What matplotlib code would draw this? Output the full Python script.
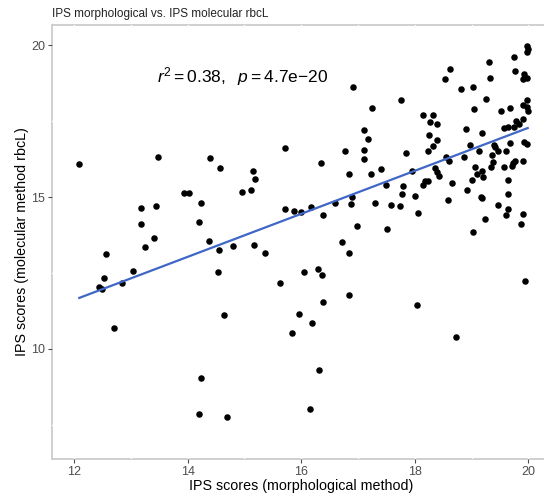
import numpy as np
import matplotlib
matplotlib.use("Agg")
import matplotlib.pyplot as plt

plt.rcParams['font.family'] = ['Liberation Sans', 'DejaVu Sans']
plt.rcParams['mathtext.fontset'] = 'custom'
plt.rcParams['mathtext.rm'] = 'Liberation Sans'
plt.rcParams['mathtext.it'] = 'Liberation Sans:italic'

# IPS scores per sample: morphological (x) vs molecular rbcL (y)
ips_morph = [
    12.09, 13.48, 14.39, 13.93, 14.03, 14.23, 13.18, 13.45, 13.17, 14.20,
    13.41, 13.25, 14.37, 12.57, 13.04, 12.52, 12.85, 12.44, 12.49, 12.71,
    14.23, 14.20,
    16.91, 17.10, 17.17, 15.72, 16.78, 17.10, 17.11, 14.57, 15.15, 15.19,
    16.35, 16.84, 14.95, 15.11, 15.72, 15.88, 15.99, 16.17, 16.60, 16.90,
    16.87, 16.39, 16.98, 14.55, 14.80, 15.16, 15.37, 16.72, 16.84, 14.53,
    16.05, 16.29, 16.36, 15.62, 16.85, 16.38, 15.96, 16.19, 15.84, 16.31,
    16.16, 14.64, 14.70,
    18.62, 18.53, 17.75, 17.24, 18.15, 18.33, 18.27, 18.40, 18.25, 18.40,
    18.33, 18.24, 17.84, 18.55, 18.60, 18.36, 18.40, 18.43, 17.95, 17.40,
    17.23, 18.18, 18.23, 18.14, 18.66, 17.49, 17.79, 17.78, 18.01, 17.30,
    17.58, 17.74, 18.59, 18.06, 17.51, 18.04,
    19.98, 19.99, 19.97, 19.74, 19.31, 19.76, 19.33, 19.92, 19.90, 19.97,
    18.82, 19.03, 19.26, 19.98, 19.90, 19.05, 19.52, 19.68, 19.98, 19.99,
    19.91, 19.79, 19.83, 19.75, 19.65, 19.57, 18.91, 19.19, 19.92, 19.98,
    19.68, 18.98, 19.40, 19.42, 19.14, 19.47, 19.61, 18.86, 19.36, 19.38,
    19.76, 19.73, 19.91, 19.35, 19.57, 19.72, 19.07, 19.18, 19.09, 19.20,
    19.01, 19.65, 18.92, 19.16, 19.18, 19.64, 19.46, 19.65, 19.60, 19.91,
    19.24, 19.88, 19.03, 19.95, 18.72,
]
ips_rbcl = [
    16.10, 16.33, 16.29, 15.13, 15.13, 14.79, 14.63, 14.69, 14.12, 14.19,
    13.64, 13.37, 13.56, 13.13, 12.56, 12.35, 12.16, 12.05, 11.96, 10.68,
    9.05, 7.85,
    18.61, 17.19, 16.92, 16.62, 16.50, 16.56, 16.26, 15.94, 15.85, 15.59,
    16.13, 15.77, 15.15, 15.22, 14.61, 14.55, 14.50, 14.66, 14.79, 15.01,
    14.77, 14.42, 14.05, 13.25, 13.38, 13.42, 13.16, 13.51, 13.16, 12.52,
    12.52, 12.63, 12.43, 12.16, 11.79, 11.54, 11.14, 10.87, 10.53, 9.32,
    8.02, 11.13, 7.77,
    19.20, 18.87, 18.19, 17.93, 17.69, 17.70, 17.48, 17.39, 17.05, 16.87,
    16.69, 16.51, 16.46, 16.33, 16.19, 15.95, 15.81, 15.69, 15.85, 15.91,
    15.76, 15.54, 15.53, 15.39, 15.46, 15.38, 15.36, 15.09, 15.04, 14.80,
    14.73, 14.71, 14.90, 14.46, 13.94, 11.45,
    19.98, 19.87, 19.76, 19.60, 19.43, 19.14, 18.92, 19.05, 18.88, 18.92,
    18.56, 18.63, 18.22, 18.19, 18.04, 17.88, 17.82, 17.93, 17.95, 17.82,
    17.58, 17.51, 17.41, 17.29, 17.31, 17.26, 17.23, 17.12, 16.81, 16.73,
    16.79, 16.70, 16.70, 16.63, 16.52, 16.50, 16.50, 16.32, 16.37, 16.14,
    16.19, 16.11, 16.19, 15.99, 16.00, 16.02, 16.00, 15.87, 15.77, 15.67,
    15.55, 15.56, 15.22, 14.99, 14.97, 15.09, 14.75, 14.60, 14.40, 14.45,
    14.27, 14.11, 13.86, 12.23, 10.39,
]
x_ticks = [12, 14, 16, 18, 20]
y_ticks = [10, 15, 20]

# linear model rbcL ~ morphological
fit_slope = 0.7076
fit_intercept = 3.125

x = np.array(ips_morph)
y = np.array(ips_rbcl)
xs = np.linspace(x.min(), x.max(), 50)

fig = plt.figure(figsize=(5.44, 4.95), dpi=100)
ax = fig.add_axes([52 / 544, 36 / 495, 499 / 544, 434 / 495])

ax.scatter(x, y, s=22, color='black', linewidths=0, zorder=3)
ax.plot(xs, fit_slope * xs + fit_intercept, color='#3F67C6', lw=1.6, zorder=4)

ax.text(13.46, 18.95, r'$r^2 = 0.38,\ \ p = \mathrm{4.7e{-}20}$',
        fontsize=12.5, ha='left', va='center')

ax.set_xlim(11.61, 20.40)
ax.set_ylim(6.38, 20.66)
ax.set_xticks(x_ticks)
ax.set_yticks(y_ticks)
ax.set_xticks([13, 15, 17, 19], minor=True)
ax.set_yticks([7.5, 12.5, 17.5], minor=True)
ax.tick_params(which='major', colors='#4d4d4d', labelsize=9, length=3, width=0.8)
ax.tick_params(which='minor', length=0)
ax.tick_params(axis='x', pad=2)
ax.tick_params(axis='y', pad=2)

for side in ['left', 'bottom', 'top', 'right']:
    ax.spines[side].set_color('#cfcfcf')
    ax.spines[side].set_linewidth(1.4)

ax.grid(True, which='both', color='white', lw=1.0)
ax.set_axisbelow(False)

ax.set_xlabel('IPS scores (morphological method)', fontsize=10.3, labelpad=1)
ax.set_ylabel('IPS scores (molecular method rbcL)', fontsize=10.3, labelpad=1.5)

fig.text(52 / 544, 1 - 14 / 495, 'IPS morphological vs. IPS molecular rbcL',
         fontsize=8.5, ha='left', va='center', color='#222222')

fig.savefig('out.png', dpi=100)
